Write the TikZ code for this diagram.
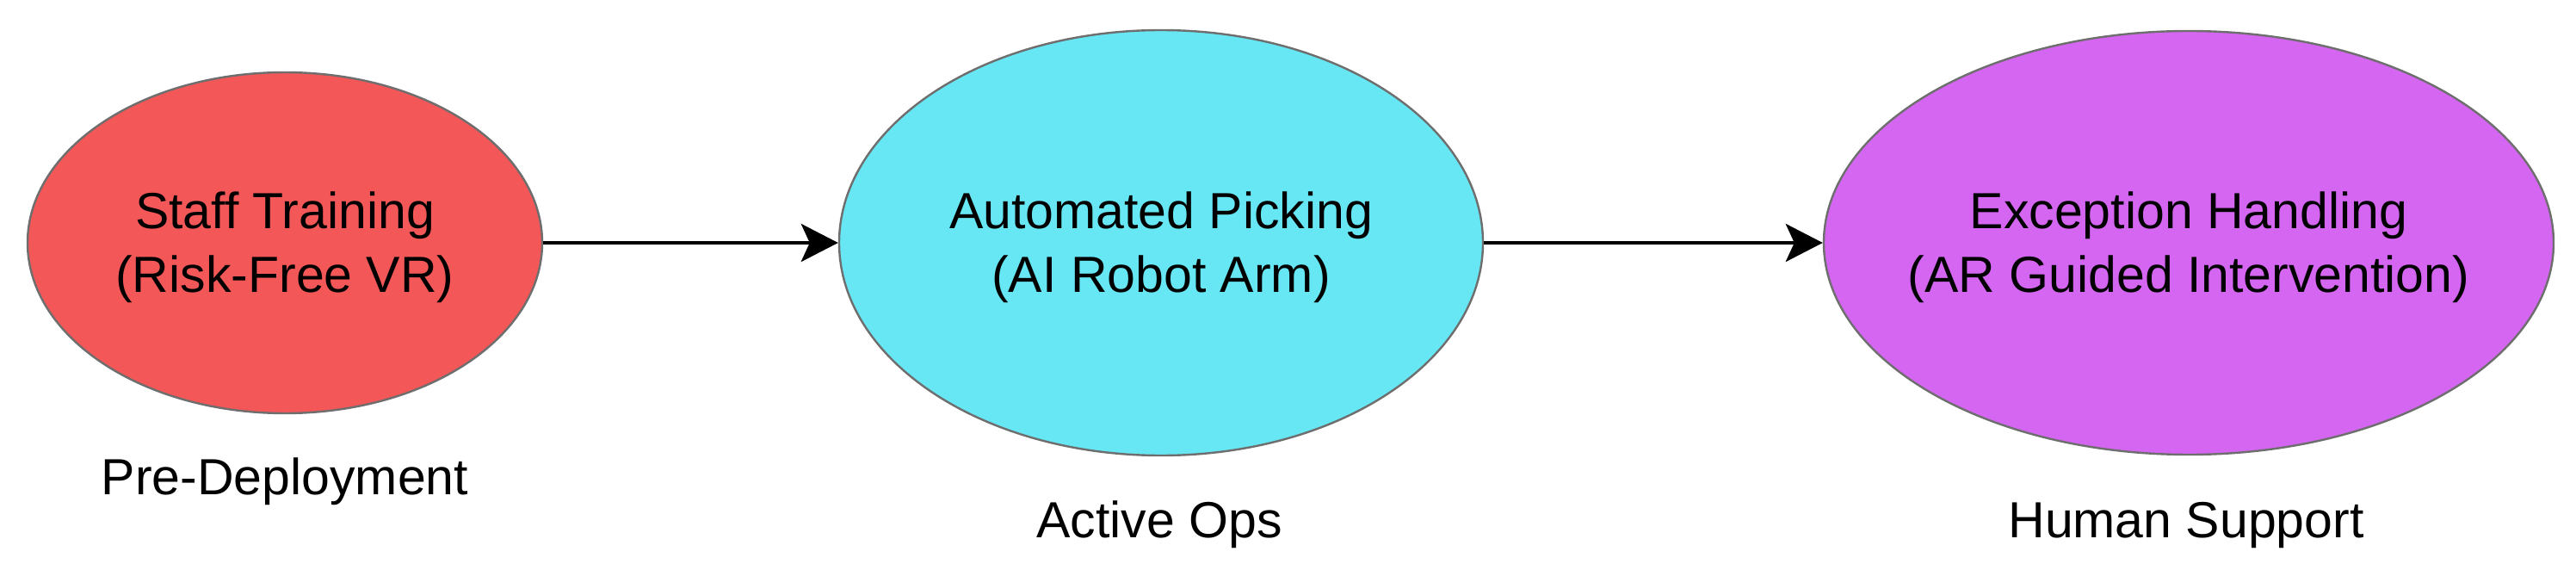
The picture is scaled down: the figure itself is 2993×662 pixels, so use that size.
\documentclass[tikz,border=0pt]{standalone}
\usepackage{fontspec}
\setmainfont{Liberation Sans}
\usetikzlibrary{shapes.geometric,arrows.meta}
\definecolor{trainred}{RGB}{243,87,87}
\definecolor{pickcyan}{RGB}{103,230,243}
\definecolor{handlepurple}{RGB}{212,102,242}
\definecolor{rimgray}{RGB}{110,110,110}
\begin{document}
\begin{tikzpicture}[x=0.5pt,y=-0.5pt,
  stage/.style={ellipse,draw=rimgray,line width=1.2pt,inner sep=0pt},
  stagetext/.style={align=center,inner sep=0pt,yshift=-2.5pt,font=\fontsize{29.5}{37}\selectfont},
  phase/.style={anchor=base,inner sep=0pt,font=\fontsize{29.5}{37}\selectfont},
  flow/.style={-{Stealth[length=21.5pt,width=22pt,inset=5pt]},line width=2pt}]
\useasboundingbox (0,0) rectangle (2993,662);

\node [stage,fill=trainred,minimum width=299pt,minimum height=198pt] (train) at (331,282) {};
\node [stage,fill=pickcyan,minimum width=374pt,minimum height=247pt] (pick) at (1349,282) {};
\node [stage,fill=handlepurple,minimum width=424pt,minimum height=246pt] (handle) at (2543,282) {};

\node [stagetext] (train-text) at (train) {Staff Training\\(Risk-Free VR)};
\node [stagetext] (pick-text) at (pick) {Automated Picking\\(AI Robot Arm)};
\node [stagetext] (handle-text) at (handle) {Exception Handling\\(AR Guided Intervention)};

\node [phase] (pre) at (331,574) {Pre-Deployment};
\node [phase] (ops) at (1347,624) {Active Ops};
\node [phase] (support) at (2540,624) {Human Support};

\draw [flow] (train) -- (pick);
\draw [flow] (pick) -- (handle);
\end{tikzpicture}
\end{document}
